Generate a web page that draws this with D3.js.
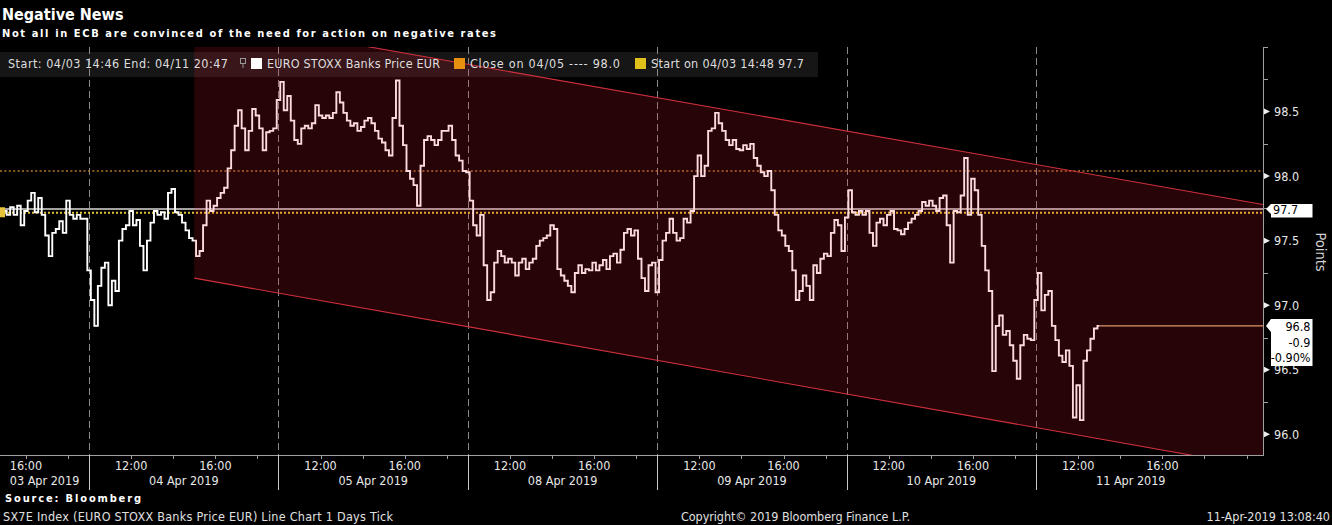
<!DOCTYPE html>
<html><head><meta charset="utf-8">
<script src="https://cdn.jsdelivr.net/npm/d3@7"></script>
<style>
html,body{margin:0;padding:0;background:#000;}
svg{display:block;}
text{font-family:"DejaVu Sans Condensed","DejaVu Sans",sans-serif;}
</style></head><body>
<svg id="chart" width="1332" height="525"></svg>
<script>
// ---------------- data ----------------
const dayLabels = ["03 Apr 2019","04 Apr 2019","05 Apr 2019","08 Apr 2019","09 Apr 2019","10 Apr 2019","11 Apr 2019"];
const dayFirstTick = ["14:50","10:00","10:00","10:00","10:00","10:00","10:00"];
const tickMinutes = 10;
const sessionHours = ["10:00","19:00"];
const chartRange = ["14:46","20:47"];
const apr03 = [97.72,97.73,97.70,97.76,97.70,97.77,97.62,97.73,97.81,97.87,97.72,97.83,97.70,97.54,97.38,97.56,97.59,97.65,97.56,97.81,97.70,97.67,97.70,97.67,97.67];
const apr04 = [97.27,97.04,96.84,97.15,97.29,97.33,97.00,97.19,97.11,97.50,
               97.59,97.62,97.73,97.62,97.66,97.46,97.27,97.50,97.64,97.73,
               97.70,97.72,97.67,97.87,97.90,97.72,97.70,97.64,97.58,97.52,
               97.50,97.38,97.42,97.62,97.81,97.73,97.77,97.83,97.87,97.91,
               98.06,98.20,98.39,98.51,98.37,98.20,98.35,98.52,98.47,98.37,
               98.20,98.34,98.35,98.37];
const apr05 = [98.59,98.73,98.51,98.62,98.43,98.28,98.25,98.37,98.39,98.37,
               98.41,98.55,98.47,98.45,98.47,98.45,98.49,98.65,98.57,98.49,
               98.43,98.39,98.41,98.35,98.38,98.43,98.45,98.41,98.35,98.29,
               98.26,98.20,98.16,98.45,98.74,98.39,98.24,98.04,97.98,97.93,
               97.77,98.08,98.28,98.31,98.28,98.24,98.28,98.35,98.35,98.39,
               98.28,98.16,98.12,98.04];
const apr08 = [98.03,97.81,97.62,97.54,97.70,97.31,97.04,97.10,97.33,97.42,
               97.38,97.33,97.36,97.33,97.23,97.33,97.36,97.28,97.33,97.36,
               97.46,97.50,97.52,97.54,97.62,97.59,97.28,97.23,97.19,97.15,
               97.10,97.25,97.31,97.25,97.28,97.27,97.33,97.27,97.31,97.35,
               97.28,97.38,97.40,97.33,97.43,97.56,97.59,97.54,97.58,97.36,
               97.21,97.11,97.31,97.33];
const apr09 = [97.10,97.35,97.50,97.56,97.67,97.56,97.50,97.52,97.67,97.64,
               97.73,98.00,98.16,98.00,98.08,98.35,98.37,98.49,98.41,98.35,
               98.28,98.24,98.28,98.21,98.20,98.24,98.21,98.25,98.14,98.08,
               98.03,98.00,98.04,97.89,97.70,97.58,97.54,97.46,97.42,97.27,
               97.04,97.11,97.23,97.15,97.04,97.31,97.25,97.36,97.40,97.38,
               97.56,97.66,97.62,97.42];
const apr10 = [97.68,97.89,97.72,97.70,97.73,97.70,97.73,97.56,97.46,97.64,
               97.67,97.62,97.70,97.73,97.59,97.58,97.55,97.59,97.64,97.67,
               97.70,97.73,97.80,97.77,97.81,97.77,97.73,97.83,97.85,97.62,
               97.33,97.73,97.72,97.85,98.14,97.70,97.98,97.89,97.70,97.46,
               97.27,97.11,96.49,96.84,96.92,96.77,96.80,96.69,96.57,96.43,
               96.69,96.77,96.74,96.73];
const apr11 = [97.04,97.25,96.96,97.08,97.11,96.84,96.73,96.61,96.56,96.65,
               96.53,96.13,96.38,96.11,96.57,96.65,96.74,96.82,96.84];
const yDomain = [95.84, 99.0];
const yMajorTicks = [96.0, 96.5, 97.0, 97.5, 98.0, 98.5];
const yMinorTicks = [96.25, 96.75, 97.25, 97.75, 98.25, 98.75, 99.0];
const xTickHours = ["10:00","12:00","14:00","16:00","18:00","20:00"];
const xLabelHours = ["12:00","16:00"];
const closeLevel = 98.04, startLevel = 97.716, prevCloseLevel = 97.745;
const channelTimes = [[1,"15:00"],[6,"20:47"]];
const channelUpper = [99.24, 97.78];
const channelLower = [97.21, 95.74];
const lastBox = ["96.8","-0.9","-0.90%"];
const prevBox = "97.7";
const legendItems = [
  {label:"EURO STOXX Banks Price EUR", color:"#ffffff"},
  {label:"Close on 04/05 ---- 98.0", color:"#e8900f"},
  {label:"Start on 04/03 14:48 97.7", color:"#e0c01a"}
];

// ---------------- layout ----------------
const PL=0, PR=1263, PT=47, PB=455;
const svg = d3.select("#chart");
const toH = s => { const [h,m] = s.split(":").map(Number); return h + m/60; };
const OPEN = toH(sessionHours[0]), CLOSE = toH(sessionHours[1]);
const START = toH(chartRange[0]), END = toH(chartRange[1]);
const sessT = (d,h) => d===0 ? h-START : (CLOSE-START)+(d-1)*(CLOSE-OPEN)+(h-OPEN);
const lastDay = dayLabels.length-1;
const x = d3.scaleLinear().domain([0, sessT(lastDay, END)]).range([PL, PR]);
const y = d3.scaleLinear().domain(yDomain).range([PB, PT]);

svg.append("rect").attr("width",1332).attr("height",525).attr("fill","#000");
svg.append("defs").append("clipPath").attr("id","plotclip")
  .append("rect").attr("x",PL).attr("y",PT).attr("width",PR-PL).attr("height",PB-PT);

// legend band (under everything)
svg.append("rect").attr("x",0).attr("y",52).attr("width",818).attr("height",25).attr("fill","#161616");

// day boundaries (dashed grid)
const boundaries = d3.range(1, dayLabels.length).map(d => sessT(d, OPEN));
svg.append("g").selectAll("line").data(boundaries).join("line")
  .attr("x1", t=>Math.round(x(t))+0.5).attr("x2", t=>Math.round(x(t))+0.5)
  .attr("y1", PT).attr("y2", PB)
  .attr("stroke","#8a8a8a").attr("stroke-width",1).attr("stroke-dasharray","7,4");

// reference lines
const refG = svg.append("g");
refG.append("line").attr("x1",PL).attr("x2",PR).attr("y1",y(prevCloseLevel)).attr("y2",y(prevCloseLevel))
  .attr("stroke","#d8d8d8").attr("stroke-width",1.4);
refG.append("line").attr("x1",PL).attr("x2",PR).attr("y1",y(closeLevel)).attr("y2",y(closeLevel))
  .attr("stroke","#b8752a").attr("stroke-width",1.4).attr("stroke-dasharray","2,2.4");
refG.append("line").attr("x1",PL).attr("x2",PR).attr("y1",y(startLevel)).attr("y2",y(startLevel))
  .attr("stroke","#e6c33a").attr("stroke-width",2).attr("stroke-dasharray","2,2");

// price points
const series = [apr03, apr04, apr05, apr08, apr09, apr10, apr11];
const points = [];
series.forEach((vals,d) => {
  const h0 = toH(dayFirstTick[d]);
  vals.forEach((v,i) => points.push({t: sessT(d, h0 + i*tickMinutes/60), v}));
});
const last = points[points.length-1];

// last price line
svg.append("line").attr("x1",x(last.t)).attr("x2",PR).attr("y1",y(last.v)).attr("y2",y(last.v))
  .attr("stroke","#dcae70").attr("stroke-width",1.3);

// price line
svg.append("path").datum(points)
  .attr("d", d3.line().curve(d3.curveStep).x(p=>x(p.t)).y(p=>y(p.v)))
  .attr("fill","none").attr("stroke","#ffffff").attr("stroke-width",1.9).attr("stroke-linejoin","miter");

// start marker
svg.append("rect").attr("x",0).attr("y",y(apr03[0])-5).attr("width",5).attr("height",10).attr("fill","#e6c33a");

// channel
const c0 = x(sessT(channelTimes[0][0], toH(channelTimes[0][1])));
const c1 = x(sessT(channelTimes[1][0], toH(channelTimes[1][1])));
const chG = svg.append("g").attr("clip-path","url(#plotclip)");
chG.append("polygon")
  .attr("points", [[c0,y(channelUpper[0])],[c1,y(channelUpper[1])],[c1,y(channelLower[1])],[c0,y(channelLower[0])]].map(p=>p.join(",")).join(" "))
  .attr("fill","rgb(240,25,50)").attr("fill-opacity",0.16);
chG.append("line").attr("x1",c0).attr("x2",c1).attr("y1",y(channelUpper[0])).attr("y2",y(channelUpper[1]))
  .attr("stroke","#d0303c").attr("stroke-width",1.1);
chG.append("line").attr("x1",c0).attr("x2",c1).attr("y1",y(channelLower[0])).attr("y2",y(channelLower[1]))
  .attr("stroke","#d0303c").attr("stroke-width",1.1);

// ---------------- right axis ----------------
const ax = svg.append("g");
ax.append("line").attr("x1",PR+0.5).attr("x2",PR+0.5).attr("y1",PT).attr("y2",PB).attr("stroke","#a0a0a0");
ax.selectAll(".minor").data(yMinorTicks).join("line")
  .attr("x1",PR).attr("x2",PR+5).attr("y1",v=>Math.round(y(v))+0.5).attr("y2",v=>Math.round(y(v))+0.5)
  .attr("stroke","#a0a0a0");
ax.selectAll(".tri").data(yMajorTicks).join("path")
  .attr("d", v => { const yy=y(v); return `M${PR+1},${yy-3} L${PR+7},${yy} L${PR+1},${yy+3} Z`; })
  .attr("fill","#eeeeee");
ax.selectAll(".lab").data(yMajorTicks).join("text")
  .attr("x",PR+11).attr("y",v=>y(v)+4.5).attr("font-size",12.5).attr("fill","#e8e8e8")
  .text(v=>d3.format(".1f")(v));
svg.append("text").attr("transform",`translate(1316,252) rotate(90)`).attr("text-anchor","middle")
  .attr("font-size",14.5).attr("fill","#d0d0d0").text("Points");

// prev box
const yp = y(prevCloseLevel);
svg.append("path").attr("d",`M${PR+3},${yp} L${PR+8},${yp-5} L${1312.5},${yp-5} L1312.5,${yp+8.5} L${PR+8},${yp+8.5} L${PR+8},${yp+5} Z`)
  .attr("fill","#fff");
svg.append("text").attr("x",PR+10).attr("y",yp+5).attr("font-size",12.5).attr("fill","#000").text(prevBox);
// last box
const yl = y(last.v);
svg.append("path").attr("d",`M${PR+3},${yl} L${PR+8},${yl-7} L1312.5,${yl-7} L1312.5,${yl+40} L${PR+8},${yl+40} L${PR+8},${yl+6} Z`)
  .attr("fill","#fff");
svg.selectAll(".lb").data(lastBox).join("text")
  .attr("x",1310.5).attr("y",(d,i)=>yl+5.5+i*15.2).attr("text-anchor","end")
  .attr("font-size",12.5).attr("fill","#000").text(d=>d);

// ---------------- bottom axis ----------------
const bx = svg.append("g");
bx.append("line").attr("x1",PL).attr("x2",PR+1).attr("y1",PB+0.5).attr("y2",PB+0.5).attr("stroke","#a0a0a0").attr("stroke-width",1.2);
const ticks = [], labels = [];
dayLabels.forEach((lab,d) => {
  xTickHours.forEach(hs => {
    const h = toH(hs);
    const t = sessT(d,h);
    if (t <= 0 || t >= x.domain()[1]) return;
    if (d < lastDay && (h < OPEN || h >= CLOSE)) return;
    if (h === OPEN) return;
    ticks.push(t);
    if (xLabelHours.includes(hs)) labels.push({t, s:hs});
  });
});
bx.selectAll(".tk").data(ticks).join("line")
  .attr("x1",t=>Math.round(x(t))+0.5).attr("x2",t=>Math.round(x(t))+0.5).attr("y1",PB).attr("y2",PB+4)
  .attr("stroke","#a0a0a0");
bx.selectAll(".tl").data(labels).join("text")
  .attr("x",d=>x(d.t)).attr("y",470).attr("text-anchor","middle").attr("font-size",12.5).attr("fill","#e8e8e8")
  .text(d=>d.s);
bx.selectAll(".sep").data(boundaries).join("line")
  .attr("x1",t=>Math.round(x(t))+0.5).attr("x2",t=>Math.round(x(t))+0.5).attr("y1",PB).attr("y2",490)
  .attr("stroke","#c8c8c8");
bx.selectAll(".dl").data(dayLabels).join("text")
  .attr("x",(lab,d)=> d===0 ? (PL + x(boundaries[0]))/2 : x(sessT(d,(OPEN+CLOSE)/2)))
  .attr("y",485).attr("text-anchor","middle").attr("font-size",12.5).attr("fill","#e8e8e8")
  .text(d=>d);

// ---------------- titles / legend / footer ----------------
svg.append("text").attr("x",2).attr("y",19.5).attr("font-family","DejaVu Sans").attr("font-weight","bold")
  .attr("font-size",16).attr("fill","#fff").text("Negative News");
svg.append("text").attr("x",2).attr("y",36.5).attr("font-family","DejaVu Sans").attr("font-weight","bold")
  .attr("font-size",11).attr("fill","#fff").attr("textLength",494).attr("lengthAdjust","spacing")
  .text("Not all in ECB are convinced of the need for action on negative rates");

const lg = svg.append("g").attr("font-size",12.5).attr("fill","#dedede");
lg.append("text").attr("x",8).attr("y",68).attr("textLength",220).attr("lengthAdjust","spacing")
  .text("Start: 04/03 14:46 End: 04/11 20:47");
lg.append("rect").attr("x",240.5).attr("y",58.5).attr("width",5).attr("height",5).attr("fill","none").attr("stroke","#999");
lg.append("line").attr("x1",243).attr("x2",243).attr("y1",63).attr("y2",68).attr("stroke","#999");
const legX = [251, 454, 635], legW = [173, 150, 153];
legendItems.forEach((it,i) => {
  lg.append("rect").attr("x",legX[i]).attr("y",58).attr("width",11).attr("height",11).attr("fill",it.color);
  lg.append("text").attr("x",legX[i]+16).attr("y",68).attr("textLength",legW[i]).attr("lengthAdjust","spacing").text(it.label);
});

svg.append("text").attr("x",5).attr("y",502).attr("font-family","DejaVu Sans").attr("font-weight","bold")
  .attr("font-size",11).attr("fill","#fff").attr("textLength",136).attr("lengthAdjust","spacing").text("Source: Bloomberg");
const ft = svg.append("g").attr("font-size",12.5).attr("fill","#e0e0e0");
ft.append("text").attr("x",3).attr("y",521).attr("textLength",390).attr("lengthAdjust","spacing")
  .text("SX7E Index (EURO STOXX Banks Price EUR) Line Chart 1 Days  Tick");
ft.append("text").attr("x",681).attr("y",521).attr("textLength",229).attr("lengthAdjust","spacing")
  .text("Copyright\u00a9 2019 Bloomberg Finance L.P.");
ft.append("text").attr("x",1330).attr("y",521).attr("text-anchor","end").text("11-Apr-2019 13:08:40");
</script>
</body></html>
